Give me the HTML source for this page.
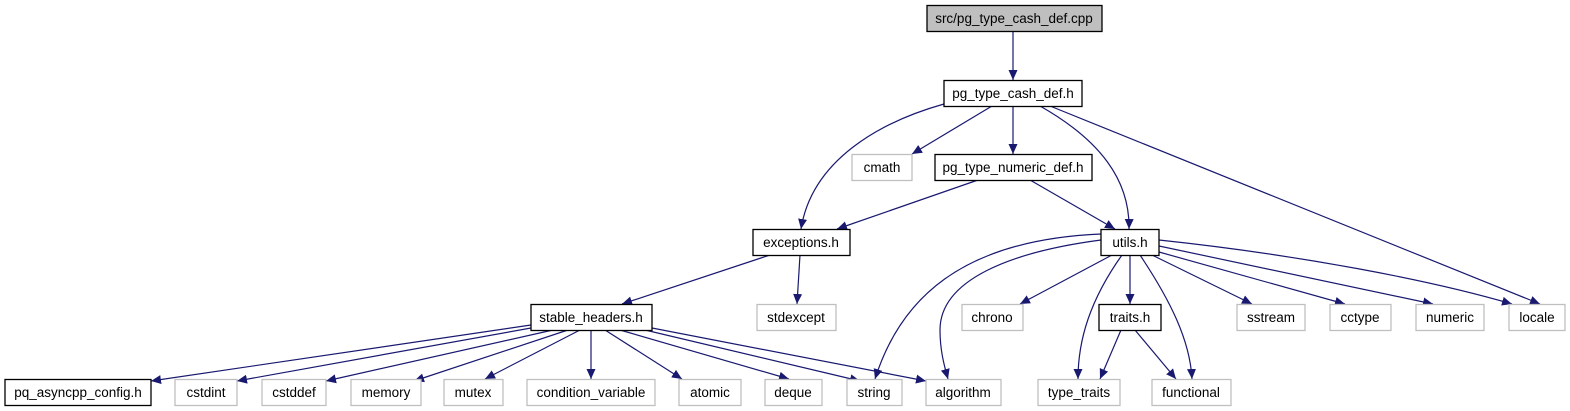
<!DOCTYPE html>
<html><head><meta charset="utf-8"><style>
html,body{margin:0;padding:0;background:#fff;}
svg{display:block;}
text{font-family:"Liberation Sans",sans-serif;font-size:13.5px;fill:#000;}
</style></head><body>
<svg width="1570" height="411" viewBox="0 0 1570 411" xmlns="http://www.w3.org/2000/svg">
<defs>
<marker id="a" viewBox="0 0 10 10" refX="10" refY="5" markerWidth="10" markerHeight="10" markerUnits="userSpaceOnUse" orient="auto">
<path d="M0,0.5 L10,5 L0,9.5 z" fill="#191970"/>
</marker>
</defs>
<g fill="none" stroke="#191970" stroke-width="1.2" marker-end="url(#a)">
<path d="M1013,31 L1013,80"/>
<path d="M944,104 C880,122 812,160 801,229"/>
<path d="M992,106 L912,154"/>
<path d="M1013,106 L1013,154"/>
<path d="M1040,106 C1100,140 1130,180 1129,229"/>
<path d="M1050,106 L1540,304"/>
<path d="M978,180 L837,229"/>
<path d="M1030,180 L1115,229"/>
<path d="M770,255 L622,304"/>
<path d="M800,255 L797,304"/>
<path d="M1101,234 C960,240 900,300 875,379"/>
<path d="M1101,240 C1010,252 940,280 940,330 C940,350 944,365 948,379"/>
<path d="M1112,255 L1020,304"/>
<path d="M1122,255 C1090,300 1078,340 1078,379"/>
<path d="M1130,255 L1130,304"/>
<path d="M1140,255 C1170,300 1190,340 1192,379"/>
<path d="M1152,255 L1252,304"/>
<path d="M1159,252 L1345,304"/>
<path d="M1159,246 L1433,304"/>
<path d="M1159,240 C1300,255 1430,280 1512,304"/>
<path d="M1121,330 L1100,379"/>
<path d="M1135,330 L1176,379"/>
<path d="M531,325 L151,381"/>
<path d="M531,328 L237,381"/>
<path d="M553,330 L326,381"/>
<path d="M568,330 L414,381"/>
<path d="M580,330 L485,379"/>
<path d="M591,330 L591,379"/>
<path d="M605,330 L682,379"/>
<path d="M620,330 L789,379"/>
<path d="M645,330 L860,381"/>
<path d="M652,328 L926,381"/>
</g>
<g stroke-width="1.3">
<rect x="927" y="5.5" width="175" height="26" fill="#bfbfbf" stroke="#000"/>
<rect x="944" y="80.5" width="138" height="26" fill="#fff" stroke="#000"/>
<rect x="852" y="154.5" width="60" height="26" fill="#fff" stroke="#bfbfbf"/>
<rect x="935" y="154.5" width="157" height="26" fill="#fff" stroke="#000"/>
<rect x="753" y="229.5" width="97" height="26" fill="#fff" stroke="#000"/>
<rect x="1101" y="229.5" width="58" height="26" fill="#fff" stroke="#000"/>
<rect x="531" y="304.5" width="121" height="26" fill="#fff" stroke="#000"/>
<rect x="757" y="304.5" width="79" height="26" fill="#fff" stroke="#bfbfbf"/>
<rect x="962" y="304.5" width="61" height="26" fill="#fff" stroke="#bfbfbf"/>
<rect x="1099" y="304.5" width="62" height="26" fill="#fff" stroke="#000"/>
<rect x="1237" y="304.5" width="68" height="26" fill="#fff" stroke="#bfbfbf"/>
<rect x="1330" y="304.5" width="61" height="26" fill="#fff" stroke="#bfbfbf"/>
<rect x="1416" y="304.5" width="68" height="26" fill="#fff" stroke="#bfbfbf"/>
<rect x="1509" y="304.5" width="56" height="26" fill="#fff" stroke="#bfbfbf"/>
<rect x="5" y="379.5" width="146" height="26" fill="#fff" stroke="#000"/>
<rect x="175" y="379.5" width="62" height="26" fill="#fff" stroke="#bfbfbf"/>
<rect x="262" y="379.5" width="64" height="26" fill="#fff" stroke="#bfbfbf"/>
<rect x="351" y="379.5" width="70" height="26" fill="#fff" stroke="#bfbfbf"/>
<rect x="444" y="379.5" width="59" height="26" fill="#fff" stroke="#bfbfbf"/>
<rect x="527" y="379.5" width="128" height="26" fill="#fff" stroke="#bfbfbf"/>
<rect x="679" y="379.5" width="62" height="26" fill="#fff" stroke="#bfbfbf"/>
<rect x="765" y="379.5" width="57" height="26" fill="#fff" stroke="#bfbfbf"/>
<rect x="847" y="379.5" width="55" height="26" fill="#fff" stroke="#bfbfbf"/>
<rect x="926" y="379.5" width="75" height="26" fill="#fff" stroke="#bfbfbf"/>
<rect x="1038" y="379.5" width="82" height="26" fill="#fff" stroke="#bfbfbf"/>
<rect x="1152" y="379.5" width="79" height="26" fill="#fff" stroke="#bfbfbf"/>
</g>
<g text-anchor="middle">
<text x="1014" y="23">src/pg_type_cash_def.cpp</text>
<text x="1013" y="98">pg_type_cash_def.h</text>
<text x="882" y="172">cmath</text>
<text x="1013" y="172">pg_type_numeric_def.h</text>
<text x="801" y="247">exceptions.h</text>
<text x="1130" y="247">utils.h</text>
<text x="591" y="322">stable_headers.h</text>
<text x="796" y="322">stdexcept</text>
<text x="992" y="322">chrono</text>
<text x="1130" y="322">traits.h</text>
<text x="1271" y="322">sstream</text>
<text x="1360" y="322">cctype</text>
<text x="1450" y="322">numeric</text>
<text x="1537" y="322">locale</text>
<text x="78" y="397">pq_asyncpp_config.h</text>
<text x="206" y="397">cstdint</text>
<text x="294" y="397">cstddef</text>
<text x="386" y="397">memory</text>
<text x="473" y="397">mutex</text>
<text x="591" y="397">condition_variable</text>
<text x="710" y="397">atomic</text>
<text x="793" y="397">deque</text>
<text x="874" y="397">string</text>
<text x="963" y="397">algorithm</text>
<text x="1079" y="397">type_traits</text>
<text x="1191" y="397">functional</text>
</g>
</svg>
</body></html>
